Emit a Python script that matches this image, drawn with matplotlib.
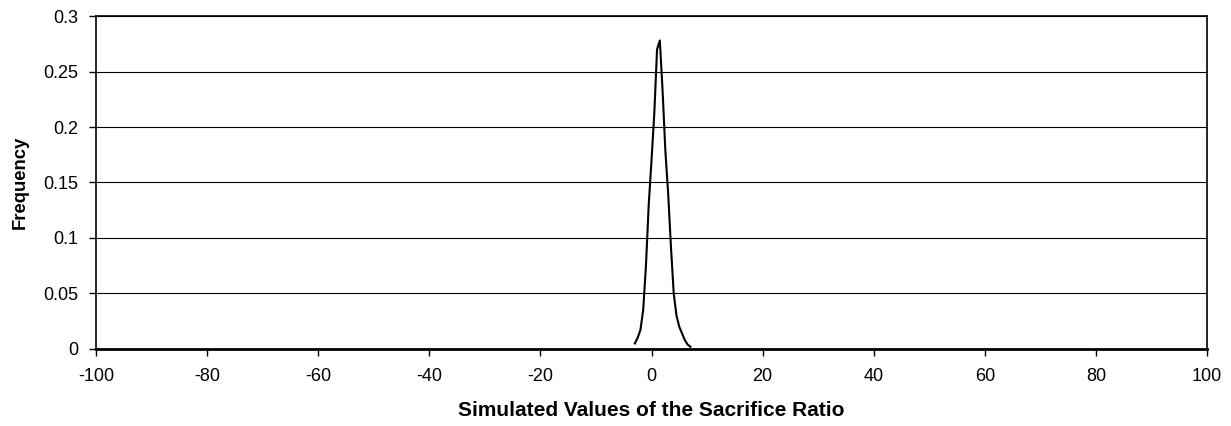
import numpy as np
import matplotlib.pyplot as plt

plt.rcParams['font.family'] = ['Liberation Sans', 'DejaVu Sans']

# simulated sacrifice ratio values and their frequencies
ratio = [-3.0, -2.5, -2.0, -1.5, -1.0, -0.5, 0.0, 0.5, 1.0, 1.5, 2.0, 2.5,
         3.0, 3.5, 4.0, 4.5, 5.0, 5.5, 6.0, 6.5, 7.0]
freq = [0.005, 0.010, 0.017, 0.035, 0.075, 0.130, 0.170, 0.212, 0.270, 0.278,
        0.232, 0.178, 0.140, 0.092, 0.050, 0.030, 0.020, 0.014, 0.008, 0.004, 0.002]

xticks = np.arange(-100, 101, 20)
yticks = [0, 0.05, 0.1, 0.15, 0.2, 0.25, 0.3]

fig = plt.figure(figsize=(12.31, 4.26), dpi=100)
ax = fig.add_axes([0.078, 0.1808, 0.9025, 0.7816])

ax.plot(ratio, freq, color='black', lw=1.5)

ax.set_xlim(-100, 100)
ax.set_ylim(0, 0.3)
ax.set_xticks(xticks)
ax.set_xticklabels([str(v) for v in xticks])
ax.set_yticks(yticks)
ax.set_yticklabels(['0', '0.05', '0.1', '0.15', '0.2', '0.25', '0.3'])
ax.grid(axis='y', color='black', lw=0.8)
ax.set_axisbelow(True)

for s in ax.spines.values():
    s.set_linewidth(1.2)
ax.spines['bottom'].set_linewidth(2)
ax.tick_params(direction='out', length=5, width=1, labelsize=13)
ax.tick_params(axis='y', pad=8)
ax.tick_params(axis='x', pad=9)

ax.set_xlabel('Simulated Values of the Sacrifice Ratio', fontsize=15, fontweight='bold', labelpad=11)
ax.set_ylabel('Frequency', fontsize=13.3, fontweight='bold', labelpad=10)

fig.savefig('out.png', dpi=100)
